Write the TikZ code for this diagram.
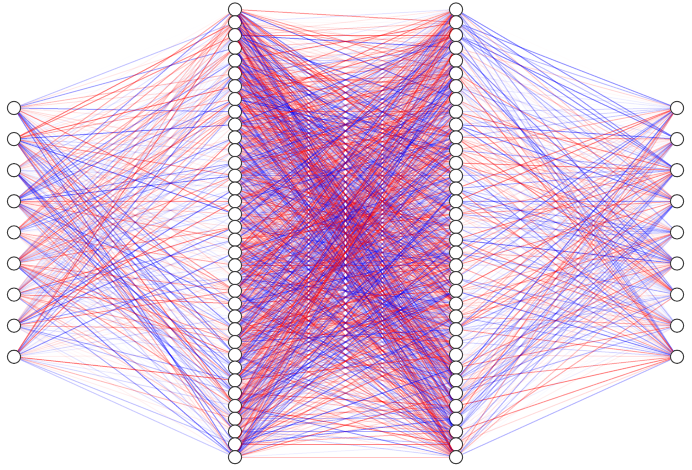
\documentclass[tikz,border=0pt]{standalone}
\usepackage{tikz}
\tikzset{neuron/.style={circle,draw=black!75,fill=white,line width=0.5pt,
  minimum size=6.6pt,inner sep=0pt},
 wire/.style={line width=0.5pt}}

\begin{document}
\begin{tikzpicture}[x=0.5pt,y=0.5pt]
 \useasboundingbox (0,0) rectangle (692,470);
 \pgfmathsetseed{4213}
 \foreach \k in {1,...,9}
  {\node[neuron] (in\k) at (14,{362-31.1*(\k-1)}) {};
   \node[neuron] (out\k) at (677,{362-31.1*(\k-1)}) {};}
 \foreach \k in {1,...,36}
  {\node[neuron] (ha\k) at (235,{460.5-12.79*(\k-1)}) {};
   \node[neuron] (hb\k) at (456,{460.5-12.79*(\k-1)}) {};}
 \foreach \src/\dst/\n/\m in {in/ha/9/36,ha/hb/36/36,hb/out/36/9}
  \foreach \a in {1,...,\n}
   \foreach \b in {1,...,\m}
    {\pgfmathsetmacro\op{0.5*rnd^2.2}
     \pgfmathtruncatemacro\sgn{rnd<0.5}
     \ifnum\sgn=1 \def\wc{red}\else\def\wc{blue}\fi
     \draw[wire,\wc,opacity=\op] (\src\a) -- (\dst\b);}
\end{tikzpicture}
\end{document}
